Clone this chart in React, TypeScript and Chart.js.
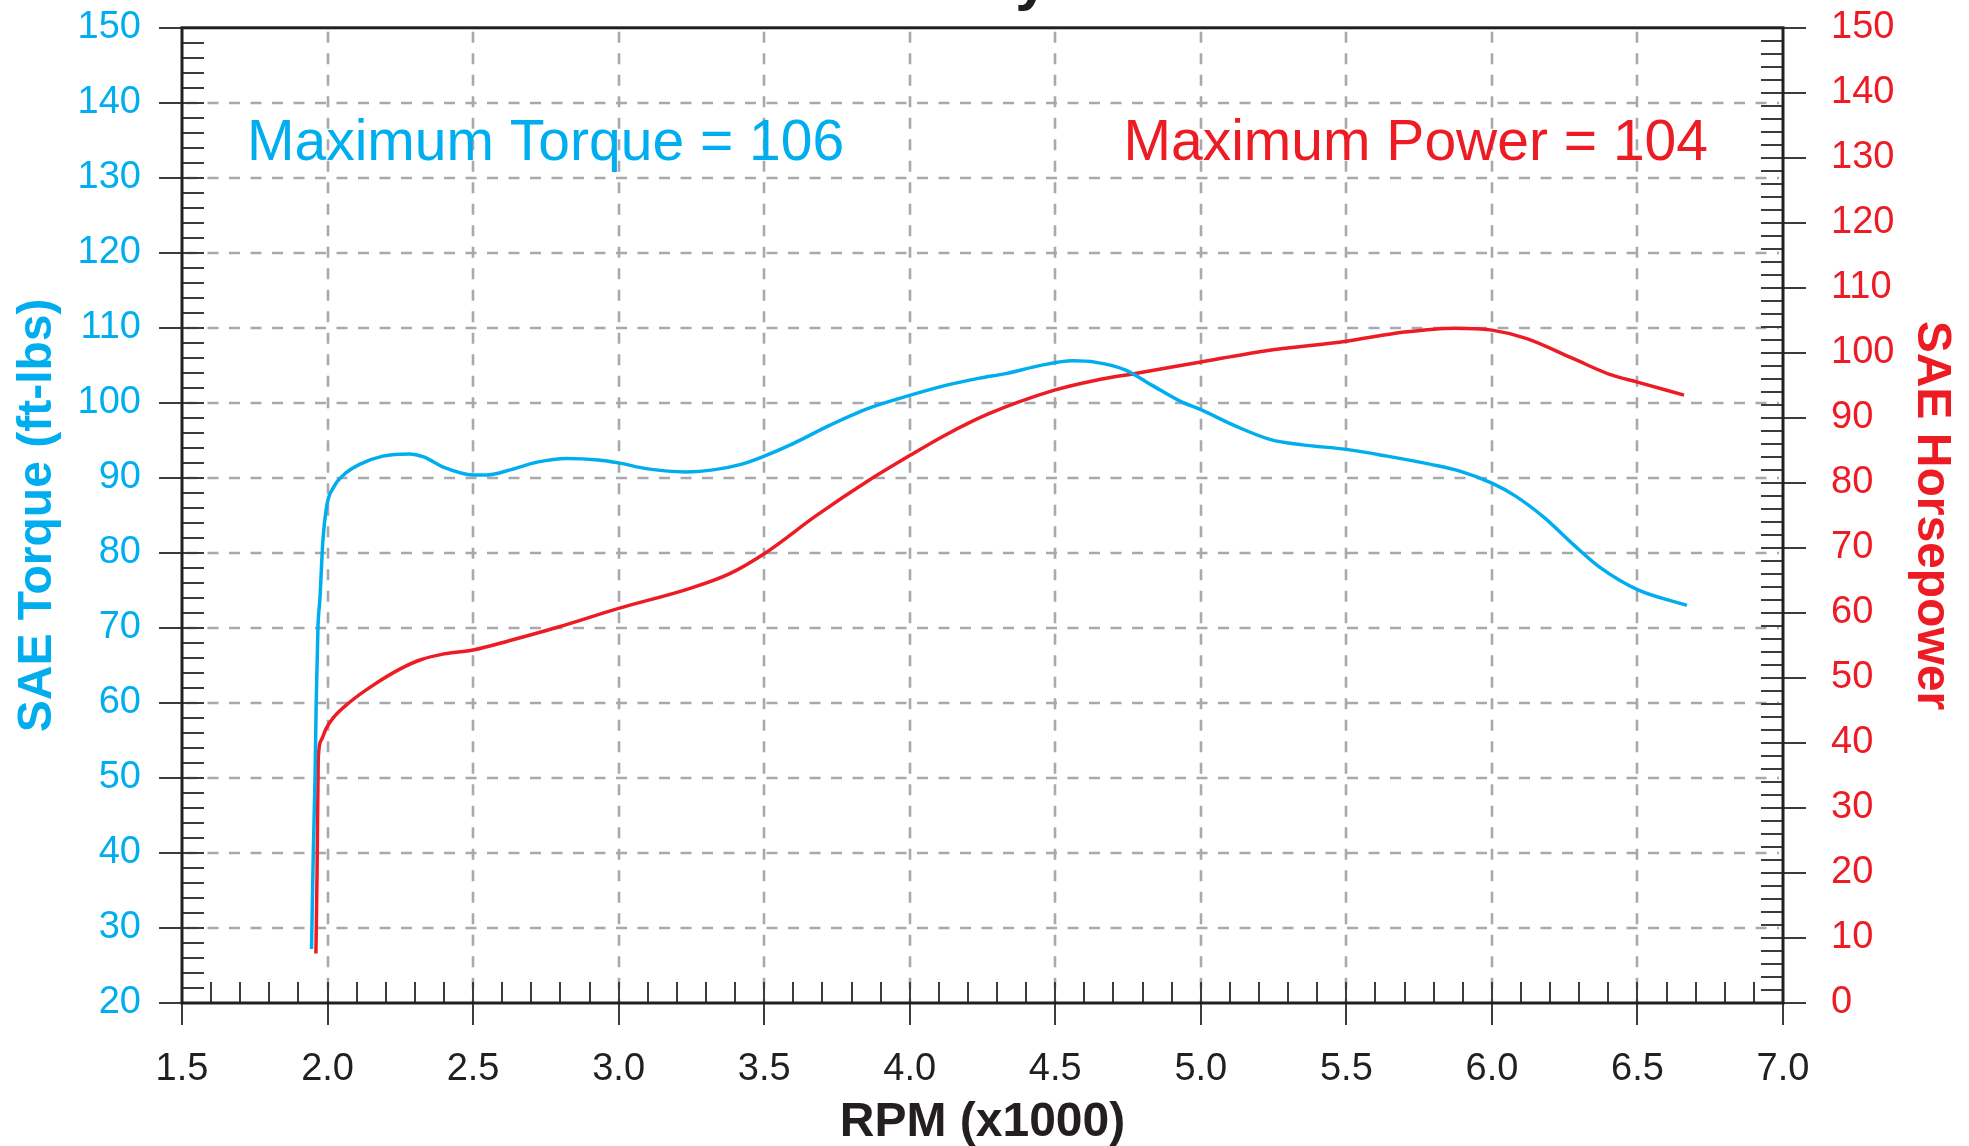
import React, { useEffect, useRef } from 'react';
import { Chart, registerables } from 'chart.js';

Chart.register(...registerables);

// ---- data ----
const torqueRpm = [
  1.945, 1.951, 1.957, 1.961, 1.967, 1.974, 1.984, 1.998, 2.02, 2.055, 2.11, 2.19, 2.28, 2.33, 2.4,
  2.5, 2.55, 2.63, 2.72, 2.82, 2.93, 3.0, 3.1, 3.23, 3.33, 3.42, 3.5, 3.59, 3.73, 3.86, 4.0, 4.12,
  4.24, 4.33, 4.45, 4.56, 4.64, 4.74, 4.83, 4.93, 5.0, 5.12, 5.24, 5.35, 5.5, 5.64, 5.79, 5.89, 6.0,
  6.08, 6.18, 6.28, 6.37, 6.5, 6.67,
];
const torqueValues = [
  27.2, 40, 50, 60, 70, 74, 81.6, 86.4, 88.7, 90.4, 91.8, 92.9, 93.2, 92.8, 91.4,
  90.4, 90.4, 91.1, 92.1, 92.6, 92.4, 92.0, 91.2, 90.8, 91.1, 91.8, 92.9, 94.4, 97.1, 99.3, 101.0, 102.3,
  103.3, 103.9, 105.0, 105.6, 105.4, 104.4, 102.4, 100.2, 99.1, 96.9, 95.1, 94.4, 93.8, 92.9, 91.8, 90.9, 89.3,
  87.6, 84.7, 81.1, 78.1, 75.1, 73.0,
];
const powerRpm = [
  1.96, 1.964, 1.968, 1.978, 1.995, 2.02, 2.077, 2.157, 2.25, 2.32, 2.4, 2.5, 2.63, 2.79, 3.0, 3.24, 3.38,
  3.5, 3.68, 3.86, 4.0, 4.12, 4.27, 4.5, 4.64, 4.77, 5.0, 5.22, 5.5, 5.7, 5.87, 6.0, 6.12, 6.28, 6.41,
  6.5, 6.66,
];
const powerValues = [
  7.6, 20, 37.5, 40.4, 42.2, 43.9, 46.3, 48.9, 51.4, 52.8, 53.7, 54.3, 55.8, 57.8, 60.7, 63.7, 66.0,
  69.1, 75.0, 80.4, 84.2, 87.3, 90.6, 94.3, 95.8, 96.8, 98.6, 100.3, 101.8, 103.2, 103.8, 103.5, 102.2, 99.1, 96.6,
  95.5, 93.5,
];
const xTickValues = [1.5, 2.0, 2.5, 3.0, 3.5, 4.0, 4.5, 5.0, 5.5, 6.0, 6.5, 7.0];
const torqueTickValues = [20, 30, 40, 50, 60, 70, 80, 90, 100, 110, 120, 130, 140, 150];
const powerTickValues = [0, 10, 20, 30, 40, 50, 60, 70, 80, 90, 100, 110, 120, 130, 140, 150];

const titleText = 'Dyno';
const torqueAxisTitle = 'SAE Torque (ft-lbs)';
const powerAxisTitle = 'SAE Horsepower';
const rpmAxisTitle = 'RPM (x1000)';
const torqueNote = 'Maximum Torque = 106';
const powerNote = 'Maximum Power = 104';

const CYAN = '#00AEEF';
const RED = '#ED1C24';
const INK = '#231F20';
const GRID = '#A7A9AC';
const FONT = "'Liberation Sans', Arial, Helvetica, sans-serif";

const W = 1969;
const H = 1146;
const PLOT_TOP = 28; // desired top of the plot frame on the page
const X_AXIS_H = 143;
const EXTRA = 43; // extra canvas height that is shifted above the page

const decor = {
  id: 'decor',
  beforeDatasetsDraw(chart: any) {
    const { ctx, chartArea: a, scales } = chart;
    const xs = scales.x;
    const ys = scales.y;
    ctx.save();
    ctx.strokeStyle = GRID;
    ctx.lineWidth = 2.6;
    ctx.setLineDash([11, 10.5]);
    xTickValues.slice(1, -1).forEach((v) => {
      const px = Math.round(xs.getPixelForValue(v));
      ctx.beginPath();
      ctx.moveTo(px, a.top + 4);
      ctx.lineTo(px, a.bottom);
      ctx.stroke();
    });
    torqueTickValues.slice(1, -1).forEach((v) => {
      const py = Math.round(ys.getPixelForValue(v));
      ctx.beginPath();
      ctx.moveTo(a.left + 4, py);
      ctx.lineTo(a.right - 4, py);
      ctx.stroke();
    });
    ctx.restore();
  },
  afterDraw(chart: any) {
    const { ctx, chartArea: a, scales } = chart;
    const xs = scales.x;
    const ys = scales.y;
    const y1 = scales.y1;
    const off = a.top - PLOT_TOP; // canvas y = page y + off
    ctx.save();
    ctx.setLineDash([]);
    ctx.lineCap = 'butt';
    const seg = (x1: number, yA: number, x2: number, yB: number) => {
      ctx.beginPath();
      ctx.moveTo(x1, yA);
      ctx.lineTo(x2, yB);
      ctx.stroke();
    };
    ctx.strokeStyle = '#3C3C3C';
    ctx.lineWidth = 2;
    for (let v = 20; v <= 150; v += 2) {
      const py = Math.round(ys.getPixelForValue(v));
      if (v % 10 === 0) seg(a.left - 23, py, a.left + 22, py);
      else seg(a.left, py, a.left + 22, py);
    }
    for (let v = 0; v <= 150; v += 2) {
      const py = Math.round(y1.getPixelForValue(v));
      if (v % 10 === 0) seg(a.right - 22, py, a.right + 23, py);
      else seg(a.right - 22, py, a.right, py);
    }
    for (let i = 15; i <= 70; i++) {
      const px = Math.round(xs.getPixelForValue(i / 10));
      if (i % 5 === 0) seg(px, a.bottom - 21, px, a.bottom + 22);
      else seg(px, a.bottom - 21, px, a.bottom);
    }
    ctx.strokeStyle = INK;
    ctx.lineWidth = 3;
    ctx.strokeRect(a.left, a.top, a.right - a.left, a.bottom - a.top);

    ctx.font = `57px ${FONT}`;
    ctx.textBaseline = 'alphabetic';
    ctx.fillStyle = CYAN;
    ctx.textAlign = 'left';
    ctx.fillText(torqueNote, 247, 160 + off);
    ctx.fillStyle = RED;
    ctx.textAlign = 'right';
    ctx.fillText(powerNote, 1708, 160 + off);

    const midY = (a.top + a.bottom) / 2;
    ctx.font = `bold 48px ${FONT}`;
    ctx.textAlign = 'center';
    ctx.fillStyle = INK;
    ctx.fillText(rpmAxisTitle, (a.left + a.right) / 2, 1136 + off);

    ctx.save();
    ctx.translate(51, midY);
    ctx.rotate(-Math.PI / 2);
    ctx.fillStyle = CYAN;
    ctx.fillText(torqueAxisTitle, 0, 0);
    ctx.restore();

    ctx.save();
    ctx.translate(1918, midY);
    ctx.rotate(Math.PI / 2);
    ctx.fillStyle = RED;
    ctx.fillText(powerAxisTitle, 0, 0);
    ctx.restore();

    ctx.font = `bold 60px ${FONT}`;
    ctx.textAlign = 'left';
    ctx.fillStyle = INK;
    ctx.fillText(titleText, 972, -1 + off);
    ctx.restore();
  },
};

export default function App() {
  const ref = useRef<HTMLCanvasElement | null>(null);
  useEffect(() => {
    const canvas = ref.current;
    if (!canvas) return;
    const torquePts = torqueRpm.map((x, i) => ({ x, y: torqueValues[i] }));
    const powerPts = powerRpm.map((x, i) => ({ x, y: powerValues[i] }));
    const chart = new Chart(canvas, {
      type: 'line',
      data: {
        datasets: [
          {
            label: 'Torque',
            data: torquePts,
            borderColor: CYAN,
            borderWidth: 3.5,
            pointRadius: 0,
            cubicInterpolationMode: 'monotone',
            yAxisID: 'y',
          },
          {
            label: 'Power',
            data: powerPts,
            borderColor: RED,
            borderWidth: 3.5,
            pointRadius: 0,
            cubicInterpolationMode: 'monotone',
            yAxisID: 'y1',
          },
        ],
      },
      options: {
        animation: false,
        responsive: false,
        devicePixelRatio: 1,
        layout: { padding: { top: 0, left: 0, right: 0, bottom: 0 } },
        plugins: { legend: { display: false }, tooltip: { enabled: false }, title: { display: false } },
        scales: {
          x: {
            type: 'linear',
            min: 1.5,
            max: 7.0,
            afterFit: (s: any) => { s.height = X_AXIS_H; },
            afterBuildTicks: (s: any) => { s.ticks = xTickValues.map((v) => ({ value: v })); },
            grid: { display: false, drawTicks: false },
            border: { display: false },
            ticks: {
              autoSkip: false,
              maxRotation: 0,
              padding: 44,
              color: INK,
              font: { family: FONT, size: 38 },
              callback: (v: any) => Number(v).toFixed(1),
            },
          },
          y: {
            type: 'linear',
            position: 'left',
            min: 20,
            max: 150,
            afterFit: (s: any) => { s.width = 182; },
            afterBuildTicks: (s: any) => { s.ticks = torqueTickValues.map((v) => ({ value: v })); },
            grid: { display: false, drawTicks: false },
            border: { display: false },
            ticks: { padding: 41, color: CYAN, font: { family: FONT, size: 38 } },
          },
          y1: {
            type: 'linear',
            position: 'right',
            min: 0,
            max: 150,
            afterFit: (s: any) => { s.width = 186; },
            afterBuildTicks: (s: any) => { s.ticks = powerTickValues.map((v) => ({ value: v })); },
            grid: { display: false, drawTicks: false },
            border: { display: false },
            ticks: { padding: 48, color: RED, font: { family: FONT, size: 38 } },
          },
        },
      },
      plugins: [decor],
    } as any);
    // shift the canvas so that the plot frame's top sits at PLOT_TOP on the page
    const shift = PLOT_TOP - chart.chartArea.top;
    canvas.style.marginTop = `${shift}px`;
    return () => chart.destroy();
  }, []);
  return (
    <div style={{ position: 'absolute', left: 0, top: 0, width: W, height: H, overflow: 'hidden', background: '#fff' }}>
      <canvas ref={ref} width={W} height={H + EXTRA} style={{ display: 'block', width: W, height: H + EXTRA }} />
    </div>
  );
}
